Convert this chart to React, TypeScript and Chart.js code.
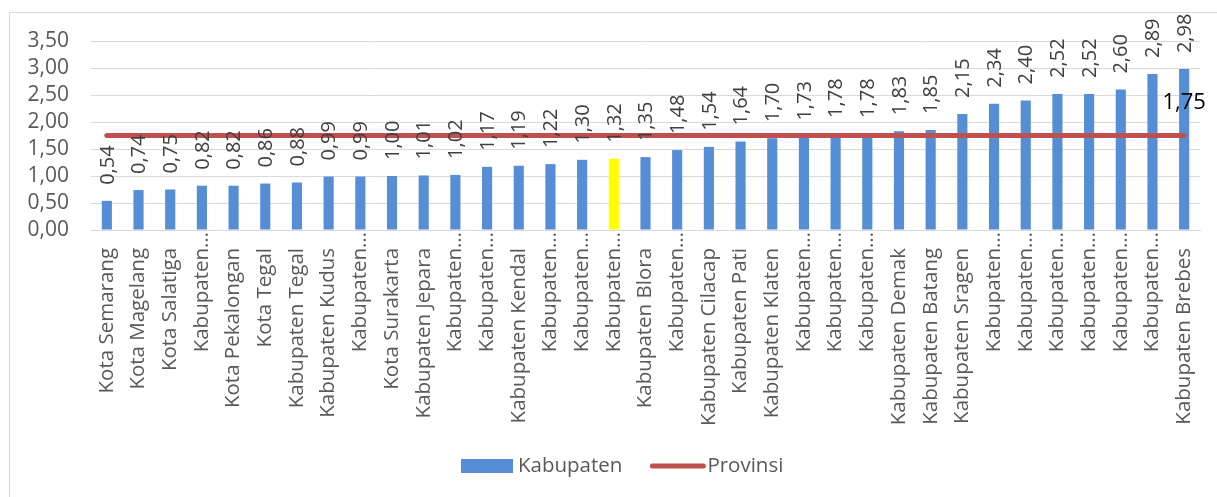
import React, { useEffect, useRef } from "react";
import { Chart, registerables } from "chart.js";

Chart.register(...registerables);

const categories: string[] = [
  "Kota Semarang", "Kota Magelang", "Kota Salatiga", "Kabupaten…", "Kota Pekalongan",
  "Kota Tegal", "Kabupaten Tegal", "Kabupaten Kudus", "Kabupaten…", "Kota Surakarta",
  "Kabupaten Jepara", "Kabupaten…", "Kabupaten…", "Kabupaten Kendal", "Kabupaten…",
  "Kabupaten…", "Kabupaten…", "Kabupaten Blora", "Kabupaten…", "Kabupaten Cilacap",
  "Kabupaten Pati", "Kabupaten Klaten", "Kabupaten…", "Kabupaten…", "Kabupaten…",
  "Kabupaten Demak", "Kabupaten Batang", "Kabupaten Sragen", "Kabupaten…", "Kabupaten…",
  "Kabupaten…", "Kabupaten…", "Kabupaten…", "Kabupaten…", "Kabupaten Brebes",
];

const kabupatenValues: number[] = [
  0.54, 0.74, 0.75, 0.82, 0.82, 0.86, 0.88, 0.99, 0.99, 1.0,
  1.01, 1.02, 1.17, 1.19, 1.22, 1.3, 1.32, 1.35, 1.48, 1.54,
  1.64, 1.7, 1.73, 1.78, 1.78, 1.83, 1.85, 2.15, 2.34, 2.4,
  2.52, 2.52, 2.6, 2.89, 2.98,
];

const provinsiValues: number[] = [
  1.75, 1.75, 1.75, 1.75, 1.75, 1.75, 1.75, 1.75, 1.75, 1.75,
  1.75, 1.75, 1.75, 1.75, 1.75, 1.75, 1.75, 1.75, 1.75, 1.75,
  1.75, 1.75, 1.75, 1.75, 1.75, 1.75, 1.75, 1.75, 1.75, 1.75,
  1.75, 1.75, 1.75, 1.75, 1.75,
];

const highlightIndex = 16;
const seriesNames: string[] = ["Kabupaten", "Provinsi"];
const yMin = 0;
const yMax = 3.5;
const yStep = 0.5;

const FONT = "'Open Sans', sans-serif";
const BLUE = "#558ED5";
const YELLOW = "#FFFF00";
const RED = "#C0504D";
const GRID = "#D9D9D9";

const fmt = (v: number) => v.toFixed(2).replace(".", ",");

export default function App() {
  const canvasRef = useRef<HTMLCanvasElement | null>(null);

  useEffect(() => {
    const canvas = canvasRef.current;
    if (!canvas) return;

    const labelsPlugin = {
      id: "valueLabels",
      afterDatasetsDraw(chart: any) {
        const ctx = chart.ctx as CanvasRenderingContext2D;
        const barMeta = chart.getDatasetMeta(0);
        ctx.save();
        ctx.font = `20px ${FONT}`;
        ctx.fillStyle = "#404040";
        ctx.textAlign = "left";
        ctx.textBaseline = "middle";
        barMeta.data.forEach((bar: any, i: number) => {
          ctx.save();
          ctx.translate(bar.x + 1, bar.y - 16);
          ctx.rotate(-Math.PI / 2);
          ctx.fillText(fmt(kabupatenValues[i]), 0, 0);
          ctx.restore();
        });
        const lineMeta = chart.getDatasetMeta(1);
        const last = lineMeta.data[lineMeta.data.length - 1];
        ctx.font = `22px ${FONT}`;
        ctx.fillStyle = "#000000";
        ctx.textAlign = "center";
        ctx.textBaseline = "middle";
        ctx.fillText(fmt(provinsiValues[provinsiValues.length - 1]), last.x, last.y - 33);
        ctx.restore();
      },
    };

    const legendPlugin = {
      id: "customLegend",
      afterDraw(chart: any) {
        const ctx = chart.ctx as CanvasRenderingContext2D;
        ctx.save();
        ctx.font = `20.5px ${FONT}`;
        ctx.textBaseline = "middle";
        ctx.textAlign = "left";
        const cy = 466;
        let x = 461;
        ctx.fillStyle = BLUE;
        ctx.fillRect(x, cy - 7, 52, 14);
        x += 52 + 5;
        ctx.fillStyle = "#595959";
        ctx.fillText(seriesNames[0], x, cy);
        x += ctx.measureText(seriesNames[0]).width + 28;
        ctx.strokeStyle = RED;
        ctx.lineWidth = 5;
        ctx.lineCap = "round";
        ctx.beginPath();
        ctx.moveTo(x + 2, cy);
        ctx.lineTo(x + 53, cy);
        ctx.stroke();
        x += 57;
        ctx.fillText(seriesNames[1], x, cy);
        ctx.restore();
      },
    };

    const chart = new Chart(canvas, {
      type: "bar",
      data: {
        labels: categories,
        datasets: [
          {
            type: "bar",
            label: seriesNames[0],
            data: kabupatenValues,
            backgroundColor: kabupatenValues.map((_, i) => (i === highlightIndex ? YELLOW : BLUE)),
            borderWidth: 0,
            categoryPercentage: 1,
            barPercentage: 0.32,
            order: 2,
          },
          {
            type: "line",
            label: seriesNames[1],
            data: provinsiValues,
            borderColor: RED,
            backgroundColor: RED,
            borderWidth: 5,
            borderCapStyle: "round",
            pointRadius: 0,
            pointHoverRadius: 0,
            fill: false,
            tension: 0,
            order: 1,
          },
        ],
      } as any,
      options: {
        animation: false,
        responsive: false,
        maintainAspectRatio: false,
        events: [],
        layout: { padding: { top: 41, right: 17, left: 0, bottom: 0 } },
        plugins: {
          legend: { display: false },
          tooltip: { enabled: false },
          title: { display: false },
        },
        scales: {
          x: {
            grid: { display: false, drawTicks: false },
            border: { display: true, color: GRID, width: 1 },
            ticks: {
              autoSkip: false,
              minRotation: 90,
              maxRotation: 90,
              padding: 2,
              color: "#595959",
              font: { family: FONT, size: 20.5 },
              callback: (_v: any, i: number) => {
                const s = categories[i];
                return s.endsWith("…") ? s : s + "   ";
              },
            },
            afterFit: (s: any) => {
              s.height = s.chart.height - 230;
            },
          },
          y: {
            min: yMin,
            max: yMax,
            grid: { color: GRID, lineWidth: 1, drawTicks: false },
            border: { display: false },
            ticks: {
              stepSize: yStep,
              autoSkip: false,
              padding: 22,
              color: "#595959",
              font: { family: FONT, size: 21 },
              callback: (v: any) => fmt(Number(v)),
            },
            afterFit: (s: any) => {
              s.width = 91;
            },
          },
        },
      } as any,
      plugins: [labelsPlugin, legendPlugin],
    });

    return () => {
      chart.destroy();
    };
  }, []);

  return (
    <div style={{ position: "absolute", left: 0, top: 0, width: 1217, height: 497, background: "#ffffff" }}>
      <div
        style={{
          position: "absolute",
          left: 9,
          top: 12,
          width: 1208,
          height: 485,
          borderLeft: "1px solid #D9D9D9",
          borderTop: "1px solid #D9D9D9",
          boxSizing: "border-box",
        }}
      />
      <canvas ref={canvasRef} width={1217} height={497} style={{ position: "absolute", left: 0, top: 0 }} />
    </div>
  );
}
